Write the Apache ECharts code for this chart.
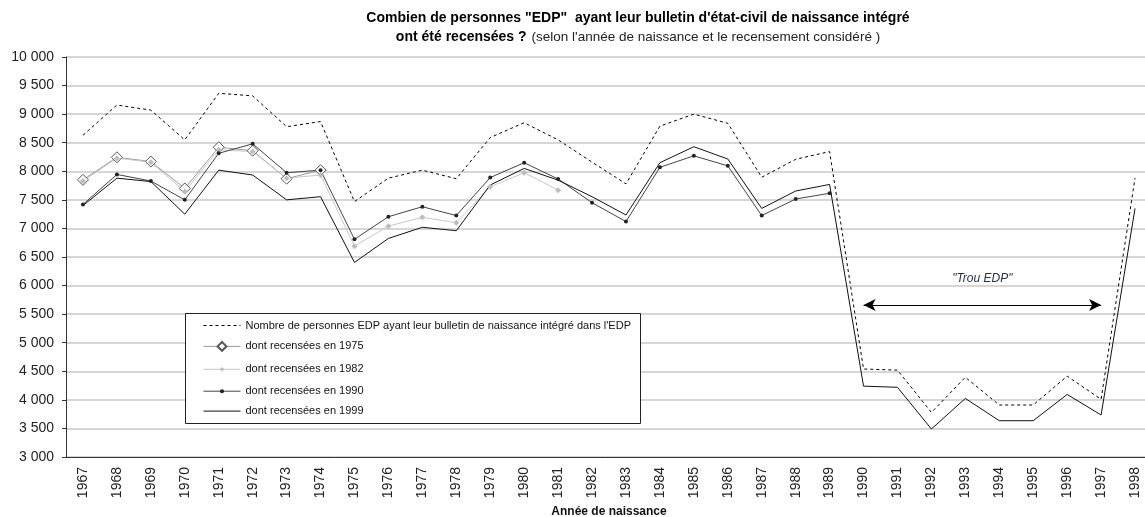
<!DOCTYPE html>
<html>
<head>
<meta charset="utf-8">
<script src="https://cdn.jsdelivr.net/npm/echarts@6/dist/echarts.min.js"></script>
<style>
    html, body { margin: 0; padding: 0; background: #fff; }
    #chart { width: 1145px; height: 517px; }
</style>
</head>
<body>
<div id="chart"></div>
<script>
    // années de naissance
    var years = ['1967', '1968', '1969', '1970', '1971', '1972', '1973', '1974', '1975', '1976',
        '1977', '1978', '1979', '1980', '1981', '1982', '1983', '1984', '1985', '1986',
        '1987', '1988', '1989', '1990', '1991', '1992', '1993', '1994', '1995', '1996',
        '1997', '1998'];

    var totalEDP = [8630, 9160, 9070, 8550, 9365, 9320, 8780, 8870, 7470, 7880,
        8020, 7870, 8590, 8850, 8550, 8160, 7780, 8790, 9000, 8840,
        7895, 8210, 8345, 4540, 4520, 3780, 4395, 3910, 3910, 4415,
        4010, 7880];

    var rec1975 = [7850, 8245, 8170, 7700, 8420, 8360, 7870, 8020];

    var rec1982 = [7830, 8230, 8160, 7645, 8375, 8345, 7880, 7935, 6690, 7040,
        7195, 7100, 7730, 7975, 7670];

    var rec1990 = [7420, 7945, 7830, 7500, 8315, 8480, 7975, 8020, 6810, 7205,
        7380, 7225, 7890, 8150, 7865, 7450, 7120, 8070, 8270, 8095,
        7225, 7515, 7615];

    var rec1999 = [7400, 7880, 7820, 7250, 8020, 7935, 7500, 7555, 6405, 6825,
        7020, 6960, 7760, 8050, 7845, 7555, 7235, 8150, 8430, 8215,
        7350, 7655, 7770, 4240, 4220, 3490, 4025, 3635, 3635, 4095,
        3735, 7350];

    var seriesNames = [
        "Nombre de personnes EDP ayant leur bulletin de naissance intégré dans l'EDP",
        'dont recensées en 1975',
        'dont recensées en 1982',
        'dont recensées en 1990',
        'dont recensées en 1999'
    ];

    // "Trou EDP" : de 1990 à 1997
    var trouStart = '1990';
    var trouEnd = '1997';
    var trouLevel = 5660;

    var font = 'Liberation Sans, Arial, sans-serif';

    function fmt(v) {
        var s = String(v);
        return s.length > 3 ? s.slice(0, -3) + ' ' + s.slice(-3) : s;
    }

    // une légende par ligne, pour régler la taille du symbole de chacune
    // (hauteur d'icône, symbole visible ou non)
    var legendIcon = [
        { h: 10, hide: true },
        { h: 11, hide: false },
        { h: 6, hide: false },
        { h: 5, hide: false },
        { h: 10, hide: true }
    ];
    var legends = seriesNames.map(function (name, i) {
        var rowCenter = 325 + i * 21.4;
        var h = legendIcon[i].h;
        return {
            orient: 'vertical',
            left: 203,
            top: rowCenter - h / 2 - (h < 8 ? 1 : 0),
            padding: 0,
            itemWidth: 37,
            itemHeight: h,
            lineStyle: { width: 1 },
            textStyle: { fontFamily: font, fontSize: 11, color: '#111' },
            data: [legendIcon[i].hide ? { name: name, itemStyle: { opacity: 0 } } : name]
        };
    });

    var myChart = echarts.init(document.getElementById('chart'));
    var option = {
        animation: false,
        backgroundColor: '#fff',
        textStyle: { fontFamily: font },
        title: {
            left: 633,
            top: 4,
            textAlign: 'center',
            text: '{b|Combien de personnes "EDP"  ayant leur bulletin d\'état-civil de naissance intégré}\n' +
                '{b|ont été recensées ?} {n|(selon l\'année de naissance et le recensement considéré )}',
            textStyle: {
                rich: {
                    b: { fontFamily: font, fontSize: 14, fontWeight: 'bold', color: '#000', lineHeight: 19 },
                    n: { fontFamily: font, fontSize: 13.5, fontWeight: 'normal', color: '#222', lineHeight: 19 }
                }
            }
        },
        // cadre de la légende
        graphic: [{
            type: 'rect',
            left: 185,
            top: 313,
            z: 3,
            shape: { width: 455, height: 110 },
            style: { fill: '#fff', stroke: '#222', lineWidth: 1 }
        }],
        legend: legends,
        grid: {
            left: 66,
            top: 57,
            width: 1086,
            height: 400,
            outerBoundsMode: 'none'
        },
        xAxis: {
            type: 'category',
            data: years,
            name: 'Année de naissance',
            nameLocation: 'middle',
            nameGap: 48,
            nameTextStyle: { fontFamily: font, fontSize: 12, fontWeight: 'bold', color: '#111' },
            axisLine: { lineStyle: { color: '#333' } },
            axisTick: { length: 5, lineStyle: { color: '#333' } },
            axisLabel: { rotate: 90, fontSize: 14, color: '#222', margin: 10 }
        },
        yAxis: {
            type: 'value',
            min: 3000,
            max: 10000,
            interval: 500,
            axisLine: { show: true, lineStyle: { color: '#333' } },
            axisTick: { show: true, length: 4, lineStyle: { color: '#333' } },
            axisLabel: { fontSize: 14, color: '#222', margin: 12, formatter: fmt },
            splitLine: { lineStyle: { color: '#c8c8c8', width: 1.5 } }
        },
        series: [
            {
                name: seriesNames[0],
                type: 'line',
                data: totalEDP,
                symbol: 'none',
                color: '#000',
                lineStyle: { color: '#000', width: 1, type: [3, 3] },
                markLine: {
                    silent: true,
                    symbol: ['arrow', 'arrow'],
                    symbolSize: [9, 12],
                    lineStyle: { color: '#000', width: 1, type: 'solid' },
                    label: {
                        show: true,
                        position: 'middle',
                        distance: 20,
                        formatter: '"Trou EDP"',
                        fontStyle: 'italic',
                        fontSize: 12,
                        color: '#23324f'
                    },
                    data: [[{ coord: [trouStart, trouLevel] }, { coord: [trouEnd, trouLevel] }]]
                }
            },
            {
                name: seriesNames[1],
                type: 'line',
                data: rec1975,
                symbol: 'diamond',
                symbolSize: 11,
                color: '#888',
                itemStyle: { color: '#fff', borderColor: '#555', borderWidth: 1 },
                lineStyle: { color: '#999', width: 1 }
            },
            {
                name: seriesNames[2],
                type: 'line',
                data: rec1982,
                symbol: 'diamond',
                symbolSize: 6,
                color: '#c0c0c0',
                itemStyle: { color: '#bdbdbd' },
                lineStyle: { color: '#c8c8c8', width: 1 }
            },
            {
                name: seriesNames[3],
                type: 'line',
                data: rec1990,
                symbol: 'circle',
                symbolSize: 4,
                color: '#222',
                itemStyle: { color: '#222' },
                lineStyle: { color: '#444', width: 1 }
            },
            {
                name: seriesNames[4],
                type: 'line',
                data: rec1999,
                symbol: 'none',
                color: '#111',
                lineStyle: { color: '#111', width: 1 }
            }
        ]
    };
    myChart.setOption(option);
</script>
</body>
</html>
